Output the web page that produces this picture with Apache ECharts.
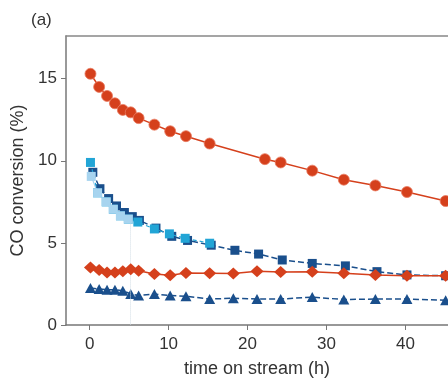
<!DOCTYPE html>
<html>
<head>
<meta charset="utf-8">
<script src="https://cdn.jsdelivr.net/npm/echarts@6/dist/echarts.min.js"></script>
<style>
  html, body { margin: 0; padding: 0; background: #fff; }
  #main { width: 448px; height: 383px; }
</style>
</head>
<body>
<div id="main"></div>
<script>
var chartDom = document.getElementById("main");
var myChart = echarts.init(chartDom);

// time on stream (h)
const tCommon = [0.1, 1.2, 2.2, 3.2, 4.2, 5.2, 6.2, 8.2, 10.2, 12.2, 15.2, 18.2, 21.2, 24.2, 28.2, 32.2, 36.2, 40.2, 45.1];
const tCircle = [0.1, 1.2, 2.2, 3.2, 4.2, 5.2, 6.2, 8.2, 10.2, 12.2, 15.2, 22.2, 24.2, 28.2, 32.2, 36.2, 40.2, 45.1];
const tNavy = [0.4, 1.3, 2.4, 3.4, 4.4, 5.4, 6.3, 8.4, 10.4, 12.4, 15.4, 18.4, 21.4, 24.4, 28.2, 32.4, 36.4, 40.2, 45.1];
const tLight = [0.2, 1.0, 2.1, 3.0, 3.9, 4.9];
const tCyan = [0.1, 1.0, 2.1, 3.0, 3.9, 4.9, 6.1, 8.2, 10.1, 12.1, 15.2];

// CO conversion (%)
const circleVals = [15.3, 14.5, 13.95, 13.5, 13.1, 12.95, 12.6, 12.2, 11.8, 11.5, 11.05, 10.1, 9.9, 9.4, 8.85, 8.5, 8.1, 7.55];
const diamondVals = [3.5, 3.35, 3.2, 3.2, 3.27, 3.4, 3.3, 3.1, 3.03, 3.17, 3.15, 3.13, 3.27, 3.23, 3.25, 3.15, 3.05, 3.0, 3.0];
const triangleVals = [2.25, 2.19, 2.15, 2.15, 2.09, 1.89, 1.79, 1.89, 1.79, 1.75, 1.58, 1.63, 1.58, 1.58, 1.7, 1.55, 1.58, 1.58, 1.51];
const navyVals = [9.3, 8.3, 7.7, 7.25, 6.85, 6.6, 6.37, 5.9, 5.4, 5.15, 4.86, 4.55, 4.32, 3.96, 3.75, 3.6, 3.25, 3.05, 3.0];
const lightVals = [9.05, 8.05, 7.5, 7.05, 6.65, 6.45];
const cyanVals = [9.9, 8.05, 7.5, 7.05, 6.65, 6.45, 6.27, 5.85, 5.55, 5.28, 4.98];

const xTicks = [0, 10, 20, 30, 40];
const yTicks = [0, 5, 10, 15];

const RED = "#d5401c";
const NAVY = "#1a4f8c";
const CYAN = "#22a5d6";
const LIGHT = "#a7d4ef";
const FONT = "Liberation Sans, Arial, sans-serif";

function pairs(ts, vs) {
  return vs.map(function (v, i) { return [ts[i], v]; });
}

var option = {
  animation: false,
  textStyle: { fontFamily: FONT },
  grid: { left: 66, top: 36, right: 0, bottom: 54 },
  graphic: [
    {
      type: "text",
      left: 31,
      top: 12,
      style: { text: "(a)", fontSize: 17, fontFamily: FONT, fill: "#333" },
    },
  ],
  xAxis: [
    {
      type: "value",
      min: -3,
      max: 45.4,
      name: "time on stream (h)",
      nameLocation: "middle",
      nameGap: 35,
      nameTextStyle: { fontSize: 18, color: "#333", fontFamily: FONT },
      splitLine: { show: false },
      axisLine: { show: true, onZero: false, lineStyle: { color: "#777", width: 1.5 } },
      axisTick: { show: true, length: 5, customValues: xTicks, lineStyle: { color: "#777" } },
      axisLabel: { customValues: xTicks, fontSize: 17, color: "#333", margin: 11 },
    },
    {
      type: "value",
      position: "top",
      min: -3,
      max: 45.4,
      splitLine: { show: false },
      axisLine: { show: true, onZero: false, lineStyle: { color: "#888", width: 1.5 } },
      axisTick: { show: false },
      axisLabel: { show: false },
    },
  ],
  yAxis: {
    type: "value",
    min: 0,
    max: 17.6,
    name: "CO conversion (%)",
    nameLocation: "middle",
    nameGap: 32,
    nameTextStyle: { fontSize: 18, color: "#333", fontFamily: FONT },
    splitLine: { show: false },
    axisLine: { show: true, onZero: false, lineStyle: { color: "#777", width: 1.5 } },
    axisTick: { show: true, length: 5, customValues: yTicks, lineStyle: { color: "#777" } },
    axisLabel: { customValues: yTicks, fontSize: 17, color: "#333", margin: 9 },
  },
  series: [
    {
      name: "triangles",
      type: "line",
      data: pairs(tCommon, triangleVals),
      symbol: "triangle",
      symbolSize: [11, 10],
      itemStyle: { color: NAVY },
      lineStyle: { color: NAVY, width: 1.5, type: [6, 3] },
      z: 2,
    },
    {
      name: "navy squares",
      type: "line",
      data: pairs(tNavy, navyVals),
      symbol: "rect",
      symbolSize: 9,
      itemStyle: { color: NAVY },
      lineStyle: { color: NAVY, width: 1.5, type: [6, 3] },
      z: 3,
    },
    {
      name: "cyan squares",
      type: "line",
      data: pairs(tCyan, cyanVals),
      symbol: "rect",
      symbolSize: 9,
      itemStyle: { color: CYAN },
      lineStyle: { color: CYAN, width: 1.2, type: [4, 3] },
      z: 4,
    },
    {
      name: "light squares",
      type: "line",
      data: pairs(tLight, lightVals),
      symbol: "rect",
      symbolSize: 9,
      itemStyle: { color: LIGHT },
      lineStyle: { color: LIGHT, width: 1.2 },
      markLine: {
        silent: true,
        symbol: "none",
        label: { show: false },
        lineStyle: { color: "#d3dee6", width: 1, type: "dotted" },
        data: [[{ coord: [5.1, 6.3] }, { coord: [5.1, 0] }]],
      },
      z: 5,
    },
    {
      name: "diamonds",
      type: "line",
      data: pairs(tCommon, diamondVals),
      symbol: "diamond",
      symbolSize: [13, 12],
      itemStyle: { color: RED },
      lineStyle: { color: RED, width: 1.5 },
      z: 6,
    },
    {
      name: "circles",
      type: "line",
      data: pairs(tCircle, circleVals),
      symbol: "circle",
      symbolSize: 11,
      itemStyle: { color: RED, borderColor: "#e8795e", borderWidth: 0.8 },
      lineStyle: { color: RED, width: 1.5 },
      z: 7,
    },
  ],
};

myChart.setOption(option);
</script>
</body>
</html>
